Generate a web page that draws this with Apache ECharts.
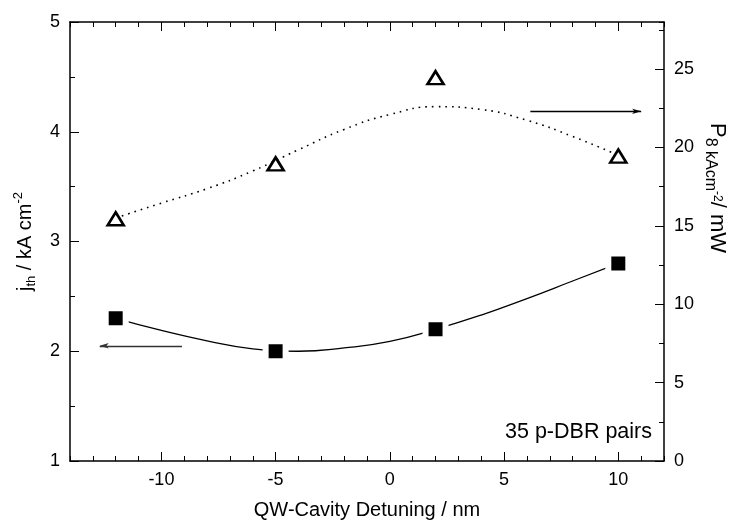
<!DOCTYPE html>
<html>
<head>
<meta charset="utf-8">
<script src="https://cdn.jsdelivr.net/npm/echarts@6/dist/echarts.min.js"></script>
<style>
html, body { margin: 0; padding: 0; background: #fff; }
#chart { width: 735px; height: 522px; }
</style>
</head>
<body>
<div id="chart"></div>
<script>
// measured points
const detuning = [-12, -5, 2, 10];
const jth = [2.3, 2.0, 2.2, 2.8];          // kA cm^-2, left axis
const power = [15.45, 18.95, 24.45, 19.45]; // mW, right axis

// fit curves
const fitX = [-12, -10, -8, -6, -4, -2, 0, 2, 4, 6, 8, 10];
const jthFit = [2.3, 2.19, 2.095, 2.022, 2.0, 2.03, 2.09, 2.2, 2.33, 2.48, 2.64, 2.8];
const powerFit = [15.5, 16.45, 17.37, 18.5, 19.85, 21.15, 22.1, 22.6, 22.42, 21.73, 20.7, 19.5];

// tick labels
const xMajor = [-10, -5, 0, 5, 10];
const rightMajor = [0, 5, 10, 15, 20, 25];

// arrows pointing to the axes (from, to)
const arrowLeft = [[-9.1, 2.05], [-12.7, 2.05]];
const arrowRight = [[6.15, 22.3], [11.0, 22.3]];

const FONT = 'Liberation Sans';
const black = '#000';
const frame = { show: true, onZero: false, lineStyle: { color: black, width: 1.5 } };
const noLine = { show: false, onZero: false };
const tick = (len, extra) => Object.assign({ inside: true, length: len, lineStyle: { color: black, width: 1 } }, extra || {});
const lbl = { color: black, fontSize: 18, fontFamily: FONT, margin: 10 };

let options = {
    animation: false,
    backgroundColor: '#fff',
    grid: { left: 70, right: 71, top: 22, bottom: 61, outerBoundsMode: 'none' },
    xAxis: [
        {
            type: 'value', position: 'bottom', min: -14, max: 12, interval: 1,
            axisLine: frame, axisTick: tick(5),
            axisLabel: Object.assign({}, lbl, { formatter: v => xMajor.includes(v) ? String(v) : '' }),
            splitLine: { show: false },
            name: 'QW-Cavity Detuning / nm', nameLocation: 'middle', nameGap: 39,
            nameTextStyle: { color: black, fontSize: 20, fontFamily: FONT, lineHeight: 20 }
        },
        {
            type: 'value', position: 'bottom', min: -14, max: 12,
            axisLine: noLine, axisTick: tick(9, { customValues: xMajor }),
            axisLabel: { show: false }, splitLine: { show: false }
        },
        {
            type: 'value', position: 'top', min: -14, max: 12, interval: 1,
            axisLine: frame, axisTick: tick(5),
            axisLabel: { show: false }, splitLine: { show: false }
        },
        {
            type: 'value', position: 'top', min: -14, max: 12,
            axisLine: noLine, axisTick: tick(9, { customValues: xMajor }),
            axisLabel: { show: false }, splitLine: { show: false }
        }
    ],
    yAxis: [
        {
            type: 'value', position: 'left', min: 1, max: 5, interval: 1,
            axisLine: frame, axisTick: tick(9),
            minorTick: { show: true, splitNumber: 2, length: 5, lineStyle: { color: black, width: 1 } },
            axisLabel: lbl,
            splitLine: { show: false }, minorSplitLine: { show: false },
            name: '{i|j}{sub|th}{i| / kA cm}{sup|-2}',
            nameLocation: 'middle', nameGap: 32, nameRotate: 90,
            nameTextStyle: {
                rich: {
                    i: { color: black, fontSize: 20, fontFamily: FONT, lineHeight: 26 },
                    sub: { color: black, fontSize: 13, fontFamily: FONT, lineHeight: 16, verticalAlign: 'bottom' },
                    sup: { color: black, fontSize: 13, fontFamily: FONT, lineHeight: 16, verticalAlign: 'top' }
                }
            }
        },
        {
            type: 'value', position: 'right', min: 0, max: 28, interval: 2.5,
            axisLine: frame, axisTick: tick(5),
            axisLabel: Object.assign({}, lbl, { formatter: v => rightMajor.includes(v) ? String(v) : '' }),
            splitLine: { show: false }
        },
        {
            type: 'value', position: 'right', min: 0, max: 28,
            axisLine: noLine, axisTick: tick(9, { customValues: rightMajor }),
            axisLabel: { show: false }, splitLine: { show: false }
        }
    ],
    graphic: [
        {
            type: 'text', x: 717, y: 188, rotation: -Math.PI / 2,
            style: {
                text: '{i|P}{sub|8 kAcm}{ss|-2}{i|/ mW}',
                align: 'center', verticalAlign: 'middle', fill: black,
                rich: {
                    i: { fontSize: 22, fontFamily: FONT, lineHeight: 30, fill: black },
                    sub: { fontSize: 16, fontFamily: FONT, lineHeight: 17, verticalAlign: 'bottom', fill: black },
                    ss: { fontSize: 12, fontFamily: FONT, lineHeight: 30, verticalAlign: 'middle', fill: black }
                }
            }
        },
        {
            type: 'text', right: 83, top: 421,
            style: { text: '35 p-DBR pairs', fontSize: 21.5, fontFamily: FONT, fill: black }
        }
    ],
    series: [
        {
            type: 'line', xAxisIndex: 0, yAxisIndex: 0,
            data: fitX.map((x, i) => [x, jthFit[i]]),
            smooth: true, symbol: 'none', silent: true, z: 2,
            lineStyle: { color: black, width: 1.3 },
            markLine: {
                silent: true, symbol: ['none', 'arrow'], symbolSize: [4, 9],
                label: { show: false },
                lineStyle: { color: '#333', width: 1.3, type: 'solid' },
                data: [[{ coord: arrowLeft[0] }, { coord: arrowLeft[1] }]]
            }
        },
        {
            type: 'line', xAxisIndex: 0, yAxisIndex: 1,
            data: fitX.map((x, i) => [x, powerFit[i]]),
            smooth: true, symbol: 'none', silent: true, z: 2,
            lineStyle: { color: black, width: 1.6, type: [1.6, 5] },
            markLine: {
                silent: true, symbol: ['none', 'arrow'], symbolSize: [4, 9],
                label: { show: false },
                lineStyle: { color: black, width: 1.3, type: 'solid' },
                data: [[{ coord: arrowRight[0] }, { coord: arrowRight[1] }]]
            }
        },
        {
            type: 'scatter', xAxisIndex: 0, yAxisIndex: 0,
            data: detuning.map((x, i) => [x, jth[i]]),
            symbol: 'rect', symbolSize: 20, z: 5,
            itemStyle: { color: black, opacity: 1, borderColor: '#fff', borderWidth: 6 }
        },
        {
            type: 'scatter', xAxisIndex: 0, yAxisIndex: 1,
            data: detuning.map((x, i) => [x, power[i]]),
            symbol: 'triangle', symbolSize: [16, 13], z: 5,
            itemStyle: { color: '#fff', opacity: 1, borderColor: black, borderWidth: 2.6 }
        }
    ]
};

let chart = echarts.init(document.getElementById('chart'));
chart.setOption(options);
</script>
</body>
</html>
